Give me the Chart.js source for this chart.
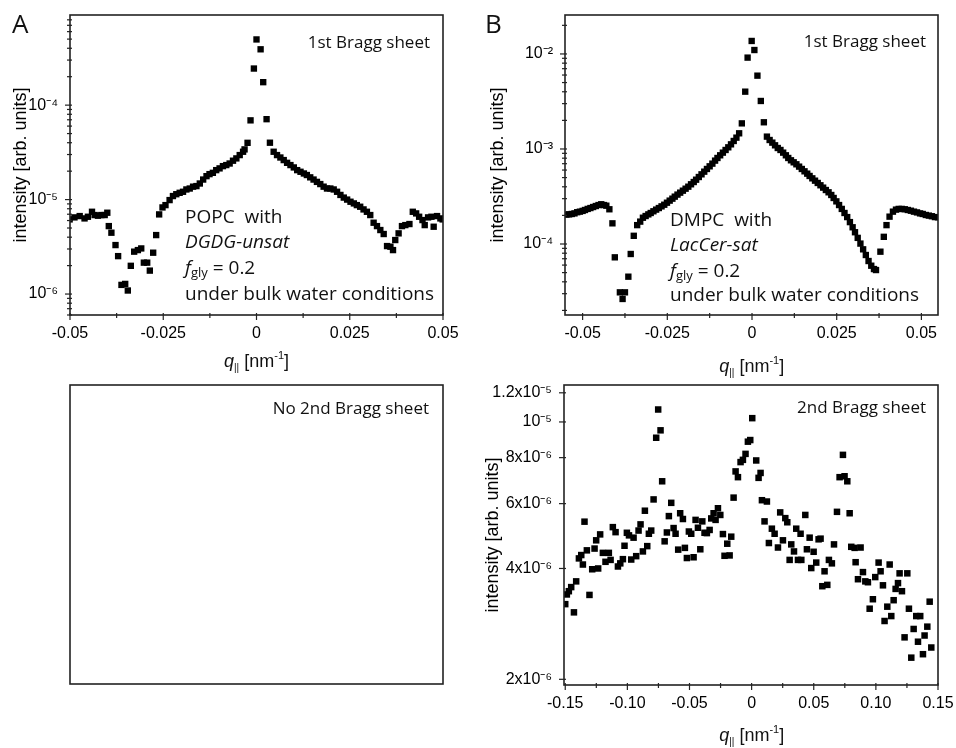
<!DOCTYPE html>
<html>
<head>
<meta charset="utf-8">
<script src="https://cdn.jsdelivr.net/npm/chart.js@4.4.1/dist/chart.umd.min.js"></script>
<style>
  html, body { margin: 0; padding: 0; background: #fff; }
  #wrap { position: relative; width: 956px; height: 748px; }
  #wrap canvas { position: absolute; left: 0; top: 0; }
</style>
</head>
<body>
<div id="wrap">
  <canvas id="chartA" width="956" height="748"></canvas>
  <canvas id="chartB" width="956" height="748"></canvas>
  <canvas id="chartC" width="956" height="748"></canvas>
  <canvas id="chartD" width="956" height="748"></canvas>
</div>
<script>
// ---- panel A: POPC with DGDG-unsat, 1st Bragg sheet ----
var qA = [-0.0501, -0.0488, -0.0474, -0.0461, -0.0452, -0.0441, -0.0434, -0.0425, -0.0416, -0.0407, -0.0400,
  -0.0396, -0.0389, -0.0378, -0.0371, -0.0362, -0.0352, -0.0345, -0.0337, -0.0328, -0.0318,
  -0.0309, -0.0302, -0.0293, -0.0286, -0.0277, -0.0269, -0.0261, -0.0252, -0.0244, -0.0233,
  -0.0224, -0.0215, -0.0206, -0.0197, -0.0188, -0.0179, -0.0170, -0.0161, -0.0152, -0.0143,
  -0.0134, -0.0126, -0.0117, -0.0108, -0.0099, -0.0090, -0.0081, -0.0072, -0.0063, -0.0054,
  -0.0045, -0.0036, -0.0032, -0.0024,
  -0.0016, -0.0007, 0.0000, 0.0011, 0.0018, 0.0027, 0.0036,
  0.0046, 0.0055, 0.0064, 0.0073, 0.0082, 0.0091, 0.0100, 0.0109, 0.0118, 0.0127,
  0.0135, 0.0144, 0.0153, 0.0162, 0.0171, 0.0180, 0.0189, 0.0198, 0.0207, 0.0216,
  0.0225, 0.0234, 0.0243, 0.0252, 0.0261, 0.0269, 0.0278, 0.0287, 0.0296, 0.0305,
  0.0314, 0.0323, 0.0332, 0.0341, 0.0350, 0.0359, 0.0366, 0.0372, 0.0381, 0.0390,
  0.0399, 0.0410, 0.0419, 0.0428, 0.0436, 0.0445, 0.0451, 0.0460, 0.0469, 0.0475,
  0.0484, 0.0493, 0.0499];
var iA = [6.17e-6, 6.48e-6, 6.69e-6, 6.32e-6, 6.58e-6, 7.43e-6, 6.86e-6, 6.75e-6, 6.86e-6, 6.86e-6, 7.26e-6,
  5.24e-6, 4.46e-6, 3.30e-6, 2.52e-6, 1.25e-6, 1.28e-6, 1.09e-6, 1.99e-6, 2.81e-6, 2.92e-6,
  3.04e-6, 2.15e-6, 2.15e-6, 1.77e-6, 2.74e-6, 4.21e-6, 6.97e-6, 8.26e-6, 8.74e-6, 9.88e-6,
  1.09e-5, 1.14e-5, 1.18e-5, 1.21e-5, 1.28e-5, 1.31e-5, 1.37e-5, 1.39e-5, 1.48e-5, 1.63e-5,
  1.77e-5, 1.86e-5, 1.92e-5, 2.05e-5, 2.14e-5, 2.26e-5, 2.32e-5, 2.41e-5, 2.58e-5, 2.73e-5,
  2.96e-5, 3.21e-5, 3.40e-5, 3.99e-5,
  6.9e-5, 2.44e-4, 4.96e-4, 3.9e-4, 1.75e-4, 7.1e-5, 4.0e-5,
  3.21e-5, 2.96e-5, 2.79e-5, 2.62e-5, 2.45e-5, 2.32e-5, 2.19e-5, 2.05e-5, 1.97e-5, 1.89e-5,
  1.82e-5, 1.72e-5, 1.63e-5, 1.54e-5, 1.46e-5, 1.37e-5, 1.31e-5, 1.31e-5, 1.28e-5, 1.21e-5,
  1.12e-5, 1.05e-5, 1.00e-5, 9.49e-6, 9.11e-6, 8.74e-6, 8.40e-6, 7.87e-6, 7.43e-6, 6.86e-6,
  5.69e-6, 5.24e-6, 4.76e-6, 4.32e-6, 3.22e-6, 3.17e-6, 2.92e-6, 3.73e-6, 4.39e-6, 5.24e-6,
  5.37e-6, 5.51e-6, 7.43e-6, 7.14e-6, 6.58e-6, 6.07e-6, 5.37e-6, 6.48e-6, 6.58e-6, 5.16e-6,
  6.69e-6, 6.32e-6, 6.17e-6];

// ---- panel B: DMPC with LacCer-sat, 1st Bragg sheet ----
var qB = [-0.0548, -0.0540, -0.0532, -0.0524, -0.0516, -0.0508, -0.0500, -0.0493, -0.0485, -0.0477,
  -0.0469, -0.0461, -0.0453, -0.0445, -0.0437, -0.0430, -0.0421, -0.0412, -0.0405, -0.0390,
  -0.0382, -0.0375, -0.0365, -0.0358, -0.0349, -0.0339, -0.0330, -0.0322,
  -0.0314, -0.0306, -0.0299, -0.0291, -0.0283, -0.0275, -0.0267, -0.0259, -0.0251, -0.0243,
  -0.0235, -0.0228, -0.0220, -0.0212, -0.0204, -0.0196, -0.0188, -0.0180, -0.0172, -0.0165,
  -0.0157, -0.0149, -0.0141, -0.0133, -0.0125, -0.0117, -0.0109, -0.0102, -0.0094, -0.0086,
  -0.0078, -0.0070, -0.0062, -0.0054, -0.0046, -0.0038,
  -0.0030, -0.0020, -0.0013, -0.0001, 0.0007, 0.0016, 0.0026, 0.0035,
  0.0044, 0.0052, 0.0060, 0.0068, 0.0076, 0.0084, 0.0092, 0.0100, 0.0107, 0.0115,
  0.0123, 0.0131, 0.0139, 0.0147, 0.0155, 0.0163, 0.0170, 0.0178, 0.0186, 0.0194,
  0.0202, 0.0210, 0.0218, 0.0226, 0.0234, 0.0241, 0.0249, 0.0257, 0.0265, 0.0273,
  0.0281, 0.0289, 0.0297, 0.0304, 0.0312, 0.0320, 0.0328, 0.0336, 0.0344, 0.0352,
  0.0360, 0.0366, 0.0379, 0.0389, 0.0397, 0.0406, 0.0416, 0.0425, 0.0433, 0.0442,
  0.0451, 0.0460, 0.0469, 0.0478, 0.0487, 0.0496, 0.0504, 0.0513, 0.0522, 0.0531,
  0.0540, 0.0549];
var iB = [2.04e-4, 2.05e-4, 2.07e-4, 2.10e-4, 2.16e-4, 2.19e-4, 2.23e-4, 2.28e-4, 2.34e-4, 2.39e-4,
  2.45e-4, 2.51e-4, 2.57e-4, 2.62e-4, 2.57e-4, 2.53e-4, 2.32e-4, 1.65e-4, 7.24e-5, 3.10e-5,
  2.64e-5, 3.10e-5, 4.53e-5, 7.85e-5, 1.22e-4, 1.58e-4, 1.72e-4, 1.89e-4,
  1.97e-4, 2.05e-4, 2.12e-4, 2.21e-4, 2.30e-4, 2.39e-4, 2.49e-4, 2.59e-4, 2.72e-4, 2.86e-4,
  3.00e-4, 3.15e-4, 3.31e-4, 3.47e-4, 3.64e-4, 3.82e-4, 4.01e-4, 4.25e-4, 4.49e-4, 4.75e-4,
  5.07e-4, 5.41e-4, 5.77e-4, 6.16e-4, 6.57e-4, 7.01e-4, 7.54e-4, 8.04e-4, 8.58e-4, 9.15e-4,
  9.76e-4, 1.041e-3, 1.119e-3, 1.214e-3, 1.316e-3, 1.462e-3,
  1.86e-3, 4.01e-3, 9.15e-3, 1.37e-2, 1.10e-2, 5.91e-3, 3.20e-3, 1.91e-3,
  1.349e-3, 1.243e-3, 1.166e-3, 1.093e-3, 1.024e-3, 9.76e-4, 9.15e-4, 8.58e-4, 8.04e-4, 7.60e-4,
  7.24e-4, 6.90e-4, 6.52e-4, 6.16e-4, 5.82e-4, 5.50e-4, 5.20e-4, 4.91e-4, 4.64e-4, 4.39e-4,
  4.15e-4, 3.92e-4, 3.70e-4, 3.50e-4, 3.28e-4, 3.05e-4, 2.81e-4, 2.57e-4, 2.34e-4, 2.12e-4,
  1.92e-4, 1.70e-4, 1.50e-4, 1.33e-4, 1.16e-4, 1.01e-4, 8.79e-5, 7.66e-5, 6.62e-5, 5.91e-5,
  5.45e-5, 5.32e-5, 8.30e-5, 1.19e-4, 1.58e-4, 1.94e-4, 2.19e-4, 2.30e-4, 2.34e-4, 2.34e-4,
  2.32e-4, 2.28e-4, 2.24e-4, 2.19e-4, 2.15e-4, 2.10e-4, 2.07e-4, 2.02e-4, 1.99e-4, 1.96e-4,
  1.92e-4, 1.91e-4];

// ---- panel C: DMPC with LacCer-sat, 2nd Bragg sheet ----
var qC = [-0.1500, -0.1487, -0.1471, -0.1452, -0.1430, -0.1412, -0.1390, -0.1371, -0.1358, -0.1345,
  -0.1326, -0.1305, -0.1283, -0.1264, -0.1251, -0.1235, -0.1219, -0.1197, -0.1176, -0.1149,
  -0.1135, -0.1117, -0.1095, -0.1076, -0.1057, -0.1036, -0.1023, -0.1004, -0.0987, -0.0969,
  -0.0950, -0.0929, -0.0910, -0.0894, -0.0875, -0.0859, -0.0840, -0.0827, -0.0808, -0.0789,
  -0.0768, -0.0752, -0.0733, -0.0720, -0.0700, -0.0682, -0.0666, -0.0647, -0.0628, -0.0612,
  -0.0591, -0.0575, -0.0553, -0.0537, -0.0521, -0.0505, -0.0486, -0.0467, -0.0451, -0.0432,
  -0.0413, -0.0397, -0.0379, -0.0360, -0.0338, -0.0325, -0.0306, -0.0290, -0.0271, -0.0252,
  -0.0231, -0.0218, -0.0196, -0.0177, -0.0164, -0.0145, -0.0129, -0.0110, -0.0089, -0.0070,
  -0.0049, -0.0030, -0.0011, 0.0005,
  0.0037, 0.0056, 0.0072, 0.0083, 0.0104, 0.0123, 0.0139, 0.0163, 0.0185, 0.0212,
  0.0230, 0.0252, 0.0271, 0.0287, 0.0306, 0.0319, 0.0341, 0.0359, 0.0373, 0.0394,
  0.0400, 0.0432, 0.0445, 0.0467, 0.0480, 0.0499, 0.0520, 0.0539, 0.0555, 0.0569,
  0.0587, 0.0609, 0.0622, 0.0646, 0.0663, 0.0687, 0.0708, 0.0735, 0.0748, 0.0770,
  0.0789, 0.0802, 0.0829, 0.0837, 0.0856, 0.0877, 0.0896, 0.0915, 0.0936, 0.0950,
  0.0976, 0.0995, 0.1022, 0.1038, 0.1057, 0.1070, 0.1092, 0.1111, 0.1124, 0.1143,
  0.1159, 0.1178, 0.1191, 0.1210, 0.1231, 0.1253, 0.1266, 0.1285, 0.1304, 0.1325,
  0.1339, 0.1357, 0.1379, 0.1392, 0.1414, 0.1433, 0.1446];
var iC = [3.20e-6, 3.40e-6, 3.47e-6, 3.56e-6, 3.04e-6, 3.69e-6, 4.26e-6, 4.35e-6, 4.10e-6, 5.36e-6,
  4.48e-6, 3.39e-6, 3.98e-6, 4.53e-6, 4.77e-6, 4.00e-6, 4.95e-6, 4.41e-6, 4.17e-6, 4.41e-6,
  4.22e-6, 5.18e-6, 5.02e-6, 4.05e-6, 4.13e-6, 4.24e-6, 4.61e-6, 5.00e-6, 4.92e-6, 4.23e-6,
  4.85e-6, 4.32e-6, 5.07e-6, 5.27e-6, 4.45e-6, 5.74e-6, 4.60e-6, 4.97e-6, 5.07e-6, 6.16e-6,
  9.06e-6, 1.081e-5, 9.49e-6, 6.90e-6, 4.74e-6, 5.01e-6, 5.55e-6, 6.03e-6, 5.15e-6, 4.97e-6,
  4.50e-6, 5.65e-6, 5.45e-6, 4.55e-6, 4.27e-6, 5.04e-6, 4.97e-6, 4.29e-6, 5.42e-6, 5.16e-6,
  4.51e-6, 5.37e-6, 5.00e-6, 4.99e-6, 5.09e-6, 5.47e-6, 5.65e-6, 5.42e-6, 5.83e-6, 5.59e-6,
  4.96e-6, 4.33e-6, 4.67e-6, 4.34e-6, 4.88e-6, 6.23e-6, 7.34e-6, 7.08e-6, 7.78e-6, 7.89e-6,
  8.19e-6, 8.84e-6, 8.93e-6, 1.024e-5,
  7.86e-6, 7.05e-6, 7.27e-6, 6.13e-6, 5.37e-6, 6.08e-6, 4.69e-6, 5.13e-6, 4.97e-6, 4.56e-6,
  5.68e-6, 4.77e-6, 5.48e-6, 5.34e-6, 4.22e-6, 4.65e-6, 4.45e-6, 5.13e-6, 4.22e-6, 4.97e-6,
  4.22e-6, 5.59e-6, 4.51e-6, 4.85e-6, 4.01e-6, 4.44e-6, 4.15e-6, 4.80e-6, 4.82e-6, 3.58e-6,
  3.93e-6, 3.61e-6, 4.22e-6, 4.13e-6, 4.65e-6, 5.70e-6, 7.08e-6, 8.14e-6, 7.12e-6, 6.90e-6,
  5.65e-6, 4.58e-6, 4.55e-6, 4.16e-6, 3.74e-6, 4.56e-6, 3.91e-6, 3.69e-6, 3.67e-6, 3.11e-6,
  3.30e-6, 3.79e-6, 4.15e-6, 3.93e-6, 3.60e-6, 2.88e-6, 3.15e-6, 4.10e-6, 2.97e-6, 3.28e-6,
  3.52e-6, 3.65e-6, 3.88e-6, 3.47e-6, 2.60e-6, 3.88e-6, 3.11e-6, 2.29e-6, 2.74e-6, 2.97e-6,
  2.53e-6, 2.97e-6, 2.34e-6, 2.63e-6, 2.78e-6, 3.25e-6, 2.44e-6];

// ---- tick values and labels ----
var xTicksAB = [-0.05, -0.025, 0, 0.025, 0.05];
var xLabelsAB = ['-0.05', '-0.025', '0', '0.025', '0.05'];
var xMinorAB = [-0.0375, -0.0125, 0.0125, 0.0375];
var yTicksA = [1e-6, 1e-5, 1e-4];
var yLabelsA = ['10\u207B\u2076', '10\u207B\u2075', '10\u207B\u2074'];
var yTicksB = [1e-4, 1e-3, 1e-2];
var yLabelsB = ['10\u207B\u2074', '10\u207B\u00B3', '10\u207B\u00B2'];
var xTicksC = [-0.15, -0.10, -0.05, 0, 0.05, 0.10, 0.15];
var xLabelsC = ['-0.15', '-0.10', '-0.05', '0', '0.05', '0.10', '0.15'];
var xMinorC = [-0.125, -0.075, -0.025, 0.025, 0.075, 0.125];
var yTicksC = [2e-6, 4e-6, 6e-6, 8e-6, 1e-5, 1.2e-5];
var yLabelsC = ['2x10\u207B\u2076', '4x10\u207B\u2076', '6x10\u207B\u2076', '8x10\u207B\u2076', '10\u207B\u2075', '1.2x10\u207B\u2075'];

var AXIS_FONT = "'Liberation Sans', Arial, sans-serif";
var NOTE_FONT = "'Open Sans', sans-serif";
var INK = '#000';

function near(a, b) { return Math.abs(a - b) <= Math.abs(b) * 1e-6 + 1e-12; }

function points(xs, ys) {
    return xs.map(function (x, k) { return { x: x, y: ys[k] }; });
}

// minor ticks of a log axis: 2..9 times every decade
function logMinors(e0, e1) {
    var out = [];
    for (var e = e0; e <= e1; e++) {
        for (var m = 2; m <= 9; m++) out.push(m * Math.pow(10, e));
    }
    return out;
}

function axis(type, min, max, majors, labels, minors, size, title) {
    var o = {
        type: type, min: min, max: max,
        grid: { display: false },
        border: { display: false },
        afterBuildTicks: function (s) {
            s.ticks = majors.concat(minors)
                .filter(function (v) { return v >= min && v <= max; })
                .sort(function (a, b) { return a - b; })
                .map(function (v) { return { value: v }; });
        },
        afterFit: function (s) {
            if (s.isHorizontal()) s.height = size; else s.width = size;
        },
        ticks: {
            autoSkip: false, maxRotation: 0, minRotation: 0,
            color: INK, padding: type === 'logarithmic' ? 4 : 1,
            font: { family: AXIS_FONT, size: 16 },
            callback: function (v) {
                for (var k = 0; k < majors.length; k++) if (near(v, majors[k])) return labels[k];
                return '';
            }
        }
    };
    if (title) {
        o.title = {
            display: true, text: 'intensity [arb. units]', color: INK,
            font: { family: AXIS_FONT, size: 18 },
            padding: { top: title, bottom: 0 }
        };
    }
    return o;
}

// box around the plot area plus the tick marks
var framePlugin = {
    id: 'frame',
    afterDraw: function (chart) {
        var ctx = chart.ctx, a = chart.chartArea;
        ctx.save();
        ctx.strokeStyle = '#222';
        ctx.lineWidth = 1.6;
        ctx.strokeRect(a.left, a.top, a.right - a.left, a.bottom - a.top);
        ctx.lineWidth = 1.2;
        Object.keys(chart.scales).forEach(function (key) {
            var s = chart.scales[key];
            if (!s.options.display) return;
            s.ticks.forEach(function (t) {
                var p = s.getPixelForValue(t.value);
                var len = t.label ? 5 : 3;
                ctx.beginPath();
                if (s.isHorizontal()) {
                    ctx.moveTo(p, a.bottom - 2);
                    ctx.lineTo(p, a.bottom + len);
                } else {
                    ctx.moveTo(a.left + 2, p);
                    ctx.lineTo(a.left - len, p);
                }
                ctx.stroke();
            });
        });
        ctx.restore();
    }
};

function drawRich(ctx, x, y, parts, align) {
    var w = 0;
    parts.forEach(function (p) { ctx.font = p.font; w += ctx.measureText(p.text).width; });
    var cx = align === 'center' ? x - w / 2 : (align === 'right' ? x - w : x);
    parts.forEach(function (p) {
        ctx.font = p.font;
        ctx.fillText(p.text, cx, y + (p.dy || 0));
        cx += ctx.measureText(p.text).width;
    });
}

function notes(items) {
    return {
        id: 'notes',
        afterDraw: function (chart) {
            var ctx = chart.ctx;
            ctx.save();
            ctx.fillStyle = '#111';
            ctx.textAlign = 'left';
            ctx.textBaseline = 'alphabetic';
            items.forEach(function (it) { drawRich(ctx, it.x, it.y, it.parts, it.align); });
            ctx.restore();
        }
    };
}

function nf(size, style) { return (style ? style + ' ' : '') + size + 'px ' + NOTE_FONT; }
function af(size, style) { return (style ? style + ' ' : '') + size + 'px ' + AXIS_FONT; }

function plain(x, y, text, size, align, style) {
    return { x: x, y: y, align: align, parts: [{ text: text, font: nf(size, style) }] };
}

function qTitle(x, y) {
    return { x: x, y: y, align: 'center', parts: [
        { text: 'q', font: af(18, 'italic') },
        { text: '||', font: af(10), dy: 4 },
        { text: ' [nm', font: af(18) },
        { text: '-1', font: af(11), dy: -8 },
        { text: ']', font: af(18) }
    ] };
}

function fgly(x, y) {
    return { x: x, y: y, parts: [
        { text: 'f', font: nf(19, 'italic') },
        { text: 'gly', font: nf(13), dy: 3 },
        { text: ' = 0.2', font: nf(19) }
    ] };
}

function markers(data, r) {
    return {
        data: data, pointStyle: 'rect', pointRadius: r, pointHoverRadius: r,
        pointBackgroundColor: '#000', pointBorderWidth: 0, showLine: false
    };
}

function baseOptions(pad, scales) {
    return {
        responsive: false, animation: false, events: [],
        layout: { padding: pad },
        plugins: { legend: { display: false }, tooltip: { enabled: false } },
        scales: scales
    };
}

new Chart(document.getElementById('chartA'), {
    type: 'scatter',
    data: { datasets: [markers(points(qA, iA), 4.5)] },
    options: baseOptions({ left: 0, top: 15, right: 513, bottom: 393 }, {
        x: axis('linear', -0.05, 0.05, xTicksAB, xLabelsAB, xMinorAB, 40),
        y: axis('logarithmic', 6.0e-7, 9.0e-4, yTicksA, yLabelsA, logMinors(-7, -4), 70, 10)
    }),
    plugins: [framePlugin, notes([
        plain(12, 33, 'A', 26),
        plain(430, 48, '1st Bragg sheet', 17, 'right'),
        plain(185, 222.5, 'POPC  with', 19),
        plain(185, 248, 'DGDG-unsat', 19, 'left', 'italic'),
        fgly(185, 274),
        plain(185, 299.5, 'under bulk water conditions', 19),
        qTitle(256.5, 367)
    ])]
});

new Chart(document.getElementById('chartB'), {
    type: 'scatter',
    data: { datasets: [markers(points(qB, iB), 4.5)] },
    options: baseOptions({ left: 485, top: 15, right: 18, bottom: 393 }, {
        x: axis('linear', -0.0552, 0.0549, xTicksAB, xLabelsAB, xMinorAB, 40),
        y: axis('logarithmic', 1.79e-5, 2.57e-2, yTicksB, yLabelsB, logMinors(-5, -2), 80, 2)
    }),
    plugins: [framePlugin, notes([
        plain(485, 33, 'B', 26),
        plain(926, 47, '1st Bragg sheet', 17, 'right'),
        plain(670, 225.5, 'DMPC  with', 19),
        plain(670, 251, 'LacCer-sat', 19, 'left', 'italic'),
        fgly(670, 276.5),
        plain(670, 301, 'under bulk water conditions', 19),
        qTitle(751.7, 372)
    ])]
});

new Chart(document.getElementById('chartC'), {
    type: 'scatter',
    data: { datasets: [markers(points(qC, iC), 4.6)] },
    options: baseOptions({ left: 482, top: 385, right: 18, bottom: 23 }, {
        x: axis('linear', -0.151, 0.15, xTicksC, xLabelsC, xMinorC, 40),
        y: axis('logarithmic', 1.93e-6, 1.26e-5, yTicksC, yLabelsC, [], 82, 0.5)
    }),
    plugins: [framePlugin, notes([
        plain(926, 413, '2nd Bragg sheet', 17, 'right'),
        qTitle(751.7, 741)
    ])]
});

// empty panel: no 2nd Bragg sheet for POPC
new Chart(document.getElementById('chartD'), {
    type: 'scatter',
    data: { datasets: [] },
    options: baseOptions({ left: 70, top: 385, right: 513, bottom: 64 }, {
        x: { type: 'linear', min: 0, max: 1, display: false },
        y: { type: 'linear', min: 0, max: 1, display: false }
    }),
    plugins: [framePlugin, notes([
        plain(429, 414, 'No 2nd Bragg sheet', 17, 'right')
    ])]
});
</script>
</body>
</html>
